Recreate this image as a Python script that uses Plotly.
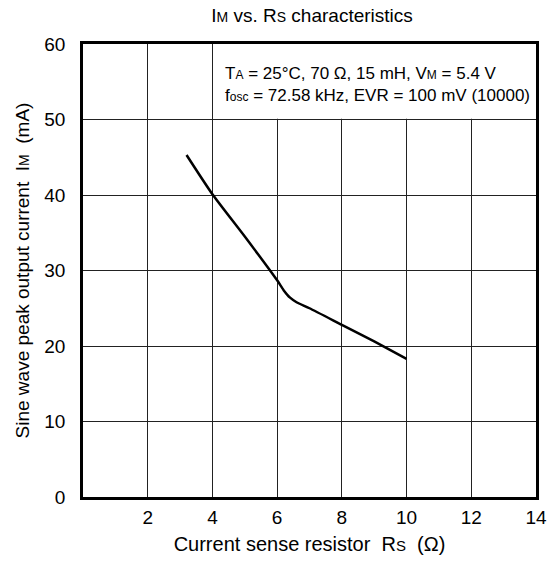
import plotly.graph_objects as go

# Data
rs_ohm = [3.2, 4.0, 5.0, 6.0, 6.2, 6.4, 6.6, 7.0, 8.0, 9.0, 10.0]
im_ma = [45.3, 40.1, 34.5, 28.7, 27.4, 26.4, 25.8, 25.0, 22.8, 20.6, 18.3]

x_ticks = [2, 4, 6, 8, 10, 12, 14]
y_ticks = [0, 10, 20, 30, 40, 50, 60]

FONT = "Liberation Sans, Arial, sans-serif"


def sm(s, size):
    return '<span style="font-size:%dpx">%s</span>' % (size, s)


fig = go.Figure()
fig.add_trace(go.Scatter(
    x=rs_ohm, y=im_ma, mode="lines",
    line=dict(color="black", width=2.5, shape="spline", smoothing=0.6),
    showlegend=False, hoverinfo="skip",
))

fig.add_shape(type="rect", xref="x", yref="y", x0=4.05, x1=14, y0=50.1, y1=60,
              fillcolor="white", line=dict(width=0), layer="between")

fig.add_annotation(
    xref="x", yref="y", x=4.33, y=54.7, xanchor="left", yanchor="middle",
    showarrow=False, align="left",
    text=("T" + sm("A", 12) + " = 25°C, 70 Ω, 15 mH, V" + sm("M", 12) + " = 5.4 V<br>"
          "f" + sm("osc", 12) + " = 72.58 kHz, EVR = 100 mV (10000)"),
    font=dict(family=FONT, size=17, color="black"),
)

fig.update_layout(
    width=548, height=563,
    margin=dict(l=82.5, r=12, t=44, b=66.3),
    paper_bgcolor="white", plot_bgcolor="white",
    font=dict(family=FONT, size=19, color="black"),
    title=dict(text="I" + sm("M", 14) + " vs. R" + sm("S", 14) + " characteristics",
               x=312 / 548, xanchor="center", y=1 - 15 / 563, yanchor="middle",
               font=dict(family=FONT, size=19, color="black")),
    xaxis=dict(range=[0, 14], tickvals=x_ticks, ticktext=[str(v) for v in x_ticks],
               showgrid=True, gridcolor="#222", gridwidth=1,
               showline=True, linecolor="black", linewidth=2.5, mirror=True,
               ticks="", zeroline=False, automargin=False,
               tickfont=dict(family=FONT, size=19), ticklabelstandoff=1,
               title=dict(text="Current sense resistor  R" + sm("S", 15) + "  (Ω)",
                          font=dict(family=FONT, size=20), standoff=11)),
    yaxis=dict(range=[0, 60], tickvals=y_ticks, ticktext=[str(v) for v in y_ticks],
               showgrid=True, gridcolor="#222", gridwidth=1,
               showline=True, linecolor="black", linewidth=2.5, mirror=True,
               ticks="", zeroline=False, automargin=False,
               tickfont=dict(family=FONT, size=19), ticklabelstandoff=11,
               title=dict(text="Sine wave peak output current  I" + sm("M", 14) + "  (mA)",
                          font=dict(family=FONT, size=19), standoff=10)),
)

fig.write_html("out.html")
